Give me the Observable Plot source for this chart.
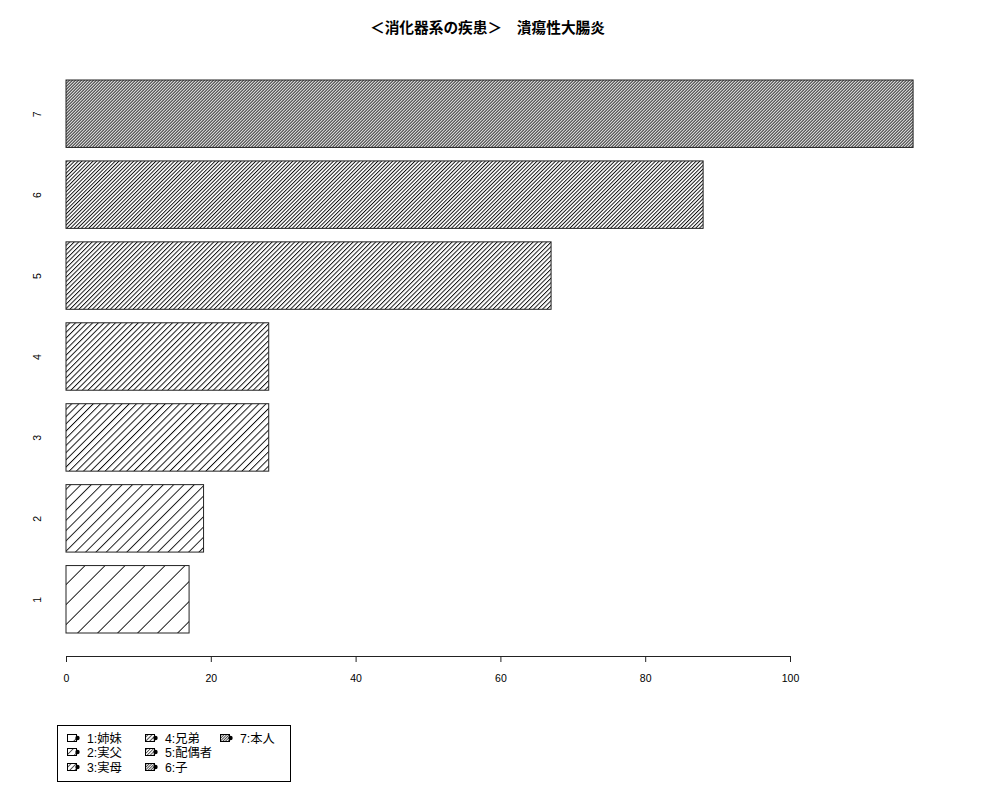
<!DOCTYPE html>
<html>
<head>
<meta charset="utf-8">
<script src="https://cdn.jsdelivr.net/npm/d3@7"></script>
<script src="https://cdn.jsdelivr.net/npm/@observablehq/plot@0.6"></script>
<style>
  body { margin: 0; background: #fff; font-family: "Liberation Sans", "Noto Sans CJK JP", sans-serif; }
  #title { height: 50px; width: 975px; text-align: center; font-weight: bold; font-size: 14.7px; line-height: 14px; padding-top: 21px; box-sizing: border-box; color: #000; white-space: pre; }
  #legend { position: absolute; left: 57px; top: 725px; width: 234px; height: 57px; border: 1px solid #000; box-sizing: border-box; font-size: 12.3px; }
  .item { position: absolute; display: flex; align-items: center; height: 14px; }
  .item svg { margin-right: 6px; }
</style>
</head>
<body>
<div id="title">＜消化器系の疾患＞　潰瘍性大腸炎</div>
<div id="chart"></div>
<div id="legend"></div>
<script>
// data
const categories = ["1", "2", "3", "4", "5", "6", "7"];
const values = [17, 19, 28, 28, 67, 88, 117];
const legendLabels = ["1:姉妹", "2:実父", "3:実母", "4:兄弟", "5:配偶者", "6:子", "7:本人"];
const xTicks = [0, 20, 40, 60, 80, 100];
// hatch spacing (horizontal period, px) per bar
const hatchSpacing = [20, 10.3, 7.2, 5.7, 4.5, 3.7, 3.0];

// R barplot layout: width 1, space 0.2
const barW = 1, space = 0.2;
const data = categories.map((c, i) => ({
  cat: c, value: values[i], i,
  y1: space + (barW + space) * i,
  y2: (barW + space) * (i + 1)
}));
const yDomain = [-0.141, (barW + space) * categories.length];
const centers = data.map(d => (d.y1 + d.y2) / 2);

const chart = Plot.plot({
  width: 1000,
  height: 660,
  marginLeft: 66,
  marginBottom: 54,
  style: { fontFamily: "Liberation Sans, sans-serif", fontSize: "10px", color: "#000", background: "#fff" },
  x: { domain: [0, 100], range: [66, 790] },
  y: { domain: yDomain, range: [606, 30] },
  marks: [
    Plot.rectX(data, { x1: 0, x2: "value", y1: "y1", y2: "y2", fill: d => `url(#hatch${d.i})`, stroke: "#222", strokeWidth: 1 }),
    Plot.ruleY([yDomain[0]], { x1: xTicks[0], x2: xTicks[xTicks.length - 1], stroke: "#222" }),
    Plot.axisX(xTicks, { tickSize: 6, tickPadding: 12, label: null, stroke: "#222", fontSize: 10.5 }),
    Plot.axisY(centers, { tickSize: 0, tickPadding: 25.5, tickRotate: -90, tickFormat: (d, i) => categories[i], label: null, fontSize: 10.5 })
  ]
});

function makeDefs(svgNode, prefix, spacings, sw) {
  const ns = "http://www.w3.org/2000/svg";
  const defs = document.createElementNS(ns, "defs");
  spacings.forEach((s, i) => {
    const d = s / Math.SQRT2; // perpendicular spacing
    const p = document.createElementNS(ns, "pattern");
    p.setAttribute("id", prefix + i);
    p.setAttribute("patternUnits", "userSpaceOnUse");
    p.setAttribute("width", d);
    p.setAttribute("height", 10);
    p.setAttribute("patternTransform", "rotate(45)");
    const r = document.createElementNS(ns, "rect");
    r.setAttribute("width", d); r.setAttribute("height", 10); r.setAttribute("fill", "#fff");
    p.appendChild(r);
    const l = document.createElementNS(ns, "line");
    l.setAttribute("x1", 0.5); l.setAttribute("x2", 0.5);
    l.setAttribute("y1", 0); l.setAttribute("y2", 10);
    l.setAttribute("stroke", "#000"); l.setAttribute("stroke-width", sw);
    p.appendChild(l);
    defs.appendChild(p);
  });
  svgNode.insertBefore(defs, svgNode.firstChild);
}
makeDefs(chart, "hatch", hatchSpacing, 0.9);
document.getElementById("chart").appendChild(chart);

// legend
const legend = document.getElementById("legend");
const colX = [9, 87, 162];
const rowY = [5, 19, 34];
legendLabels.forEach((lab, i) => {
  const col = Math.floor(i / 3), row = i % 3;
  const item = document.createElement("div");
  item.className = "item";
  item.style.left = colX[col] + "px";
  item.style.top = rowY[row] + "px";
  const ns = "http://www.w3.org/2000/svg";
  const s = document.createElementNS(ns, "svg");
  s.setAttribute("width", 14); s.setAttribute("height", 10);
  makeDefs(s, "lg" + i + "_", [Math.max(hatchSpacing[i] / 1.4, 2.6)], 0.7);
  const rect = document.createElementNS(ns, "rect");
  rect.setAttribute("x", 0.5); rect.setAttribute("y", 1.5); rect.setAttribute("width", 9); rect.setAttribute("height", 7);
  rect.setAttribute("fill", `url(#lg${i}_0)`); rect.setAttribute("stroke", "#000");
  s.appendChild(rect);
  const dot = document.createElementNS(ns, "circle");
  dot.setAttribute("cx", 10.5); dot.setAttribute("cy", 5); dot.setAttribute("r", 2.2); dot.setAttribute("fill", "#000");
  s.appendChild(dot);
  item.appendChild(s);
  const t = document.createElement("span");
  t.textContent = lab;
  item.appendChild(t);
  legend.appendChild(item);
});
</script>
</body>
</html>
